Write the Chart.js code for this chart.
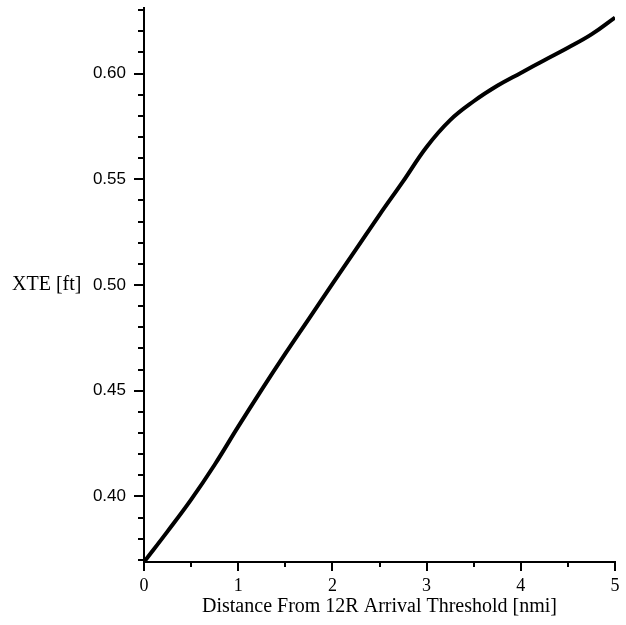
<!DOCTYPE html>
<html>
<head>
<meta charset="utf-8">
<script src="https://cdn.jsdelivr.net/npm/chart.js@4/dist/chart.umd.min.js"></script>
<style>
html,body{margin:0;padding:0;background:#fff;}
canvas{display:block;}
</style>
</head>
<body>
<canvas id="c" width="626" height="625"></canvas>
<script>
// Data
const distanceNmi = [0, 0.25, 0.5, 0.75, 1, 1.25, 1.5, 1.75, 2, 2.25, 2.5, 2.75, 3, 3.25, 3.5, 3.75, 4, 4.25, 4.5, 4.75, 5];
const xteFt = [0.369, 0.3835, 0.3985, 0.415, 0.433, 0.4505, 0.4675, 0.484, 0.5005, 0.5168, 0.5332, 0.549, 0.5653, 0.578, 0.5869, 0.5942, 0.6003, 0.6063, 0.6122, 0.6185, 0.6265];
const xMajorTicks = [0, 1, 2, 3, 4, 5];
const xMinorTicks = [0.5, 1.5, 2.5, 3.5, 4.5];
const yMajorTicks = [0.40, 0.45, 0.50, 0.55, 0.60];
const yMinorTicks = [0.37, 0.38, 0.39, 0.41, 0.42, 0.43, 0.44, 0.46, 0.47, 0.48, 0.49, 0.51, 0.52, 0.53, 0.54, 0.56, 0.57, 0.58, 0.59, 0.61, 0.62, 0.63];
const xTitle = 'Distance From 12R Arrival Threshold [nmi]';
const yTitle = 'XTE [ft]';

const serif = '"Liberation Serif", "Times New Roman", serif';
const sans = '"Liberation Sans", Arial, sans-serif';

const minorTicksAndTitles = {
  id: 'minorTicksAndTitles',
  afterDraw(chart) {
    const ctx = chart.ctx;
    const xs = chart.scales.x, ys = chart.scales.y;
    const ca = chart.chartArea;
    ctx.save();
    ctx.strokeStyle = '#000';
    ctx.lineWidth = 2;
    ctx.beginPath();
    yMinorTicks.forEach(v => {
      const py = Math.round(ys.getPixelForValue(v));
      ctx.moveTo(ca.left - 6, py);
      ctx.lineTo(ca.left, py);
    });
    xMinorTicks.forEach(v => {
      const px = Math.round(xs.getPixelForValue(v));
      ctx.moveTo(px, ca.bottom);
      ctx.lineTo(px, ca.bottom + 5);
    });
    ctx.stroke();
    ctx.fillStyle = '#000';
    ctx.font = '20px ' + serif;
    ctx.textAlign = 'left';
    ctx.textBaseline = 'middle';
    ctx.fillText(yTitle, 12, (ca.top + ca.bottom) / 2);
    ctx.textAlign = 'center';
    ctx.fillText(xTitle, (ca.left + ca.right) / 2, 607);
    ctx.restore();
  }
};

new Chart(document.getElementById('c'), {
  type: 'line',
  data: {
    datasets: [{
      data: distanceNmi.map((x, i) => ({x: x, y: xteFt[i]})),
      borderColor: '#000',
      borderWidth: 4,
      pointRadius: 0,
      tension: 0.4,
      fill: false
    }]
  },
  options: {
    responsive: false,
    animation: false,
    devicePixelRatio: 1,
    layout: {padding: {left: 0, right: 11, top: 8, bottom: 0}},
    plugins: {legend: {display: false}, tooltip: {enabled: false}},
    scales: {
      x: {
        type: 'linear',
        min: 0, max: 5,
        afterBuildTicks(s) { s.ticks = xMajorTicks.map(v => ({value: v})); },
        afterFit(s) { s.height = 63; s.paddingLeft = 0; s.paddingRight = 0; },
        grid: {drawOnChartArea: false, drawTicks: true, tickLength: 9, color: '#000', lineWidth: 2},
        border: {display: true, color: '#000', width: 2},
        ticks: {color: '#000', font: {family: serif, size: 18}, padding: 4, maxRotation: 0,
                callback: v => String(v)}
      },
      y: {
        type: 'linear',
        min: 0.369, max: 0.631,
        afterBuildTicks(s) { s.ticks = yMajorTicks.map(v => ({value: v})); },
        afterFit(s) { s.width = 144; s.paddingTop = 0; s.paddingBottom = 0; },
        grid: {drawOnChartArea: false, drawTicks: true, tickLength: 10, color: '#000', lineWidth: 2},
        border: {display: true, color: '#000', width: 2},
        ticks: {color: '#000', font: {family: sans, size: 17}, padding: 8,
                callback: v => v.toFixed(2)}
      }
    }
  },
  plugins: [minorTicksAndTitles]
});
</script>
</body>
</html>
